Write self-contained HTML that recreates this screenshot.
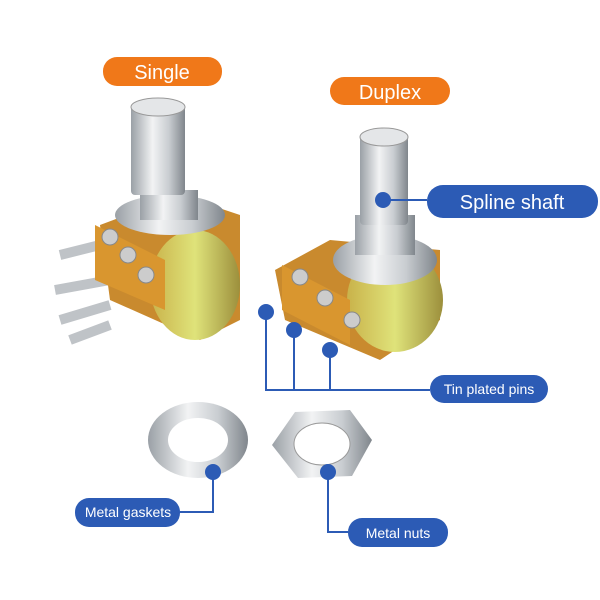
<!DOCTYPE html>
<html><head><meta charset="utf-8"><style>
body{margin:0;background:#fff;width:600px;height:600px;overflow:hidden}
svg{display:block}
text{font-family:"Liberation Sans",sans-serif}
</style></head><body>
<svg width="600" height="600" viewBox="0 0 600 600">
<defs>
<linearGradient id="met" x1="0" x2="1"><stop offset="0" stop-color="#9aa0a6"/><stop offset=".4" stop-color="#f2f3f4"/><stop offset=".7" stop-color="#c9cdd1"/><stop offset="1" stop-color="#80868c"/></linearGradient>
<linearGradient id="can" x1="0" x2="1"><stop offset="0" stop-color="#c9b24a"/><stop offset=".5" stop-color="#dfe37a"/><stop offset="1" stop-color="#9c8f3c"/></linearGradient>
</defs>
<path d="M100 225 L180 195 L240 215 L240 320 L200 340 L110 300 Z" fill="#c98a2e"/>
<ellipse cx="195" cy="285" rx="45" ry="55" fill="url(#can)"/>
<path d="M60 255 L100 245 M55 290 L110 280 M60 320 L110 305 M70 340 L110 325" stroke="#bfc3c7" stroke-width="10"/>
<path d="M95 225 L165 260 L165 310 L95 280 Z" fill="#d9962f"/>
<circle cx="110" cy="237" r="8" fill="#ccc" stroke="#888"/><circle cx="128" cy="255" r="8" fill="#ccc" stroke="#888"/><circle cx="146" cy="275" r="8" fill="#ccc" stroke="#888"/>
<ellipse cx="170" cy="215" rx="55" ry="20" fill="url(#met)"/>
<rect x="140" y="190" width="58" height="30" fill="url(#met)"/>
<rect x="131" y="105" width="54" height="90" fill="url(#met)" rx="4"/>
<ellipse cx="158" cy="107" rx="27" ry="9" fill="#e4e6e8" stroke="#999"/>
<path d="M275 270 L330 240 L440 250 L440 320 L380 360 L285 320 Z" fill="#c98a2e"/>
<ellipse cx="395" cy="300" rx="48" ry="52" fill="url(#can)"/>
<path d="M282 265 L350 300 L350 345 L282 310 Z" fill="#d9962f"/>
<circle cx="300" cy="277" r="8" fill="#ccc" stroke="#888"/><circle cx="325" cy="298" r="8" fill="#ccc" stroke="#888"/><circle cx="352" cy="320" r="8" fill="#ccc" stroke="#888"/>
<ellipse cx="385" cy="260" rx="52" ry="25" fill="url(#met)"/>
<rect x="355" y="215" width="60" height="40" fill="url(#met)"/>
<rect x="360" y="135" width="48" height="90" fill="url(#met)" rx="4"/>
<ellipse cx="384" cy="137" rx="24" ry="9" fill="#e4e6e8" stroke="#999"/>
<ellipse cx="198" cy="440" rx="50" ry="38" fill="url(#met)"/>
<ellipse cx="198" cy="440" rx="30" ry="22" fill="#fff"/>
<polygon points="295,412 350,410 372,440 352,476 298,478 272,445" fill="url(#met)"/>
<ellipse cx="322" cy="444" rx="28" ry="21" fill="#fff" stroke="#999"/>
<rect x="103" y="57" width="119" height="29" rx="14" fill="#f07819"/>
<text x="162" y="79" font-size="20" fill="#fff" text-anchor="middle">Single</text>
<rect x="330" y="77" width="120" height="28" rx="14" fill="#f07819"/>
<text x="390" y="99" font-size="20" fill="#fff" text-anchor="middle">Duplex</text>
<g stroke="#2c5bb5" stroke-width="2" fill="none">
<path d="M383 200 L427 200"/>
<path d="M266 312 L266 390 L430 390 M294 330 L294 390 M330 350 L330 390"/>
<path d="M213 472 L213 512 L180 512"/>
<path d="M328 472 L328 532 L348 532"/>
</g>
<g fill="#2c5bb5">
<circle cx="383" cy="200" r="8"/><circle cx="266" cy="312" r="8"/><circle cx="294" cy="330" r="8"/><circle cx="330" cy="350" r="8"/><circle cx="213" cy="472" r="8"/><circle cx="328" cy="472" r="8"/>
<rect x="427" y="185" width="171" height="33" rx="16"/>
<rect x="430" y="375" width="118" height="28" rx="14"/>
<rect x="75" y="498" width="105" height="29" rx="14"/>
<rect x="348" y="518" width="100" height="29" rx="14"/>
</g>
<g fill="#fff" text-anchor="middle">
<text x="512" y="209" font-size="20">Spline shaft</text>
<text x="489" y="394" font-size="14">Tin plated pins</text>
<text x="128" y="517" font-size="14">Metal gaskets</text>
<text x="398" y="538" font-size="14">Metal nuts</text>
</g>
</svg>
</body></html>
